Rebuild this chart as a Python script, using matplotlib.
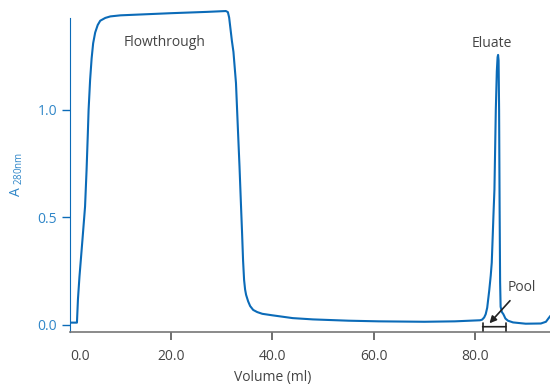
import numpy as np
import matplotlib
matplotlib.use("Agg")
from matplotlib import pyplot as plt

plt.rcParams['font.family'] = ['Open Sans', 'DejaVu Sans']
plt.rcParams['mathtext.default'] = 'regular'

BLUE = '#0b6bb8'
LBLUE = '#2f86c8'
GREY = '#444444'

# chromatogram
volume = [0, 1.4, 1.6, 1.9, 2.5, 3.0, 3.3, 3.55, 3.7, 4.0, 4.3, 4.6, 5.0,
          5.5, 6.0, 7.0, 8.0, 10, 20, 27, 30.8, 31.2, 31.45, 31.7, 32.0,
          32.3, 32.8, 33.2, 33.5, 33.8, 34.0, 34.2, 34.4, 34.6, 34.8, 35.2,
          35.6, 36.2, 37.0, 38.0, 40, 44, 48, 55, 61, 70, 76, 81, 81.4, 81.8,
          82.1, 82.4, 82.8, 83.1, 83.3, 83.5, 83.65, 83.83, 84.1, 84.3, 84.45,
          84.55, 84.65, 84.75, 84.85, 84.95, 85.05, 85.3, 85.6, 86.0, 86.5,
          87.5, 90, 93, 94, 94.5, 94.8]
a280 = [0.011, 0.011, 0.12, 0.225, 0.40, 0.55, 0.72, 0.89, 1.0, 1.14, 1.24,
        1.31, 1.36, 1.395, 1.415, 1.428, 1.435, 1.44, 1.45, 1.456, 1.46,
        1.455, 1.43, 1.38, 1.32, 1.27, 1.125, 0.9, 0.735, 0.55, 0.43, 0.30,
        0.21, 0.165, 0.14, 0.11, 0.088, 0.07, 0.06, 0.052, 0.045, 0.032,
        0.026, 0.02, 0.017, 0.015, 0.017, 0.022, 0.025, 0.035, 0.05, 0.08,
        0.16, 0.23, 0.29, 0.42, 0.52, 0.63, 1.0, 1.18, 1.245, 1.256, 1.23,
        1.0, 0.55, 0.2, 0.085, 0.06, 0.05, 0.03, 0.02, 0.012, 0.006, 0.007,
        0.015, 0.031, 0.04]

xticks = [0, 20, 40, 60, 80]
yticks = [0.0, 0.5, 1.0]
pool = (81.5, 86.1)

fig = plt.figure(figsize=(5.5, 3.84), dpi=100)
ax = fig.add_axes([0.127, 0.1354, 0.873, 0.8437])

ax.plot(volume, a280, color=BLUE, lw=1.5, solid_joinstyle='round')

ax.set_xlim(0, 94.8)
ax.set_ylim(-0.0326, 1.474)

for s in ['top', 'right']:
    ax.spines[s].set_visible(False)
ax.spines['left'].set_color(BLUE)
ax.spines['left'].set_bounds(-0.0326, 1.428)
ax.spines['bottom'].set_color('#777777')
ax.spines['bottom'].set_linewidth(1.2)

ax.set_xticks(xticks)
ax.set_xticklabels(['%.1f' % v for v in xticks])
ax.get_xticklabels()[0].set_ha('left')
ax.set_yticks(yticks)
ax.set_yticklabels(['%.1f' % v for v in yticks])
ax.tick_params(axis='x', colors='#555555', labelcolor=GREY, length=6, width=1.2,
               labelsize=10, pad=6)
ax.tick_params(axis='y', colors=BLUE, labelcolor=LBLUE, length=6, width=1,
               labelsize=10, pad=3)
ax.xaxis.get_major_ticks()[0].tick1line.set_visible(False)

fig.text(273 / 550, 1 - 377 / 384, 'Volume (ml)', color=GREY, fontsize=10,
         ha='center', va='center')
fig.text(17 / 550, 1 - 175 / 384, r'A$_{\ 280nm}$', color=LBLUE, fontsize=10,
         rotation=90, ha='center', va='center')

ax.text(18.7, 1.316, 'Flowthrough', color=GREY, fontsize=10, ha='center', va='center')
ax.text(83.3, 1.31, 'Eluate', color=GREY, fontsize=10, ha='center', va='center')
ax.text(86.5, 0.175, 'Pool', color=GREY, fontsize=10, ha='left', va='center')

# pool bracket and arrow
ax.annotate('', xy=(pool[0], -0.008), xytext=(pool[1], -0.008),
            arrowprops=dict(arrowstyle='|-|', color='#222222', lw=1.2,
                            mutation_scale=3, shrinkA=0, shrinkB=0))
ax.annotate('', xy=(82.85, 0.008), xytext=(86.9, 0.113),
            arrowprops=dict(arrowstyle='-|>', color='#222222', lw=1.2,
                            mutation_scale=10, shrinkA=0, shrinkB=0))

fig.savefig('out.png', dpi=100)
